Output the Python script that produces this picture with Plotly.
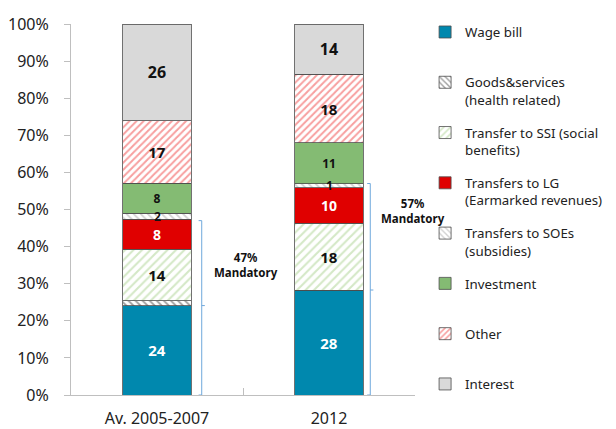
import plotly.graph_objects as go

categories = ["Av. 2005-2007", "2012"]

series_names = [
    "Wage bill",
    "Goods&services<br>(health related)",
    "Transfer to SSI (social<br>benefits)",
    "Transfers to LG<br>(Earmarked revenues)",
    "Transfers to SOEs<br>(subsidies)",
    "Investment",
    "Other",
    "Interest",
]

wage = [24.1, 28.3]
goods = [1.3, 0.0]
ssi = [13.9, 18.0]
lg = [8.1, 9.5]
soe = [1.6, 1.2]
investment = [8.1, 11.0]
other = [16.8, 18.4]
interest = [26.1, 13.6]

wage_lbl = ["24", "28"]
goods_lbl = ["", ""]
ssi_lbl = ["14", "18"]
lg_lbl = ["8", "10"]
soe_lbl = ["2", "1"]
investment_lbl = ["8", "11"]
other_lbl = ["17", "18"]
interest_lbl = ["26", "14"]

mandatory = [47, 57]
y_ticks = [0, 10, 20, 30, 40, 50, 60, 70, 80, 90, 100]
y_tick_text = [f"{v}%" for v in y_ticks]

FONT = "Noto Sans, Open Sans, sans-serif"

values = [wage, goods, ssi, lg, soe, investment, other, interest]
labels = [wage_lbl, goods_lbl, ssi_lbl, lg_lbl, soe_lbl, investment_lbl, other_lbl, interest_lbl]
styles = [
    dict(color="#0088AE", pattern=None, tc="white", ts=15),
    dict(color="white", pattern=dict(shape="\\", fgcolor="#404040", bgcolor="white", size=5, solidity=0.35), tc="#111", ts=12),
    dict(color="white", pattern=dict(shape="/", fgcolor="#A9D18E", bgcolor="white", size=6, solidity=0.35), tc="#111", ts=15),
    dict(color="#E00000", pattern=None, tc="white", ts=14),
    dict(color="white", pattern=dict(shape="\\", fgcolor="#A6A6A6", bgcolor="white", size=5, solidity=0.35), tc="#111", ts=12),
    dict(color="#84BB73", pattern=None, tc="#111", ts=12),
    dict(color="white", pattern=dict(shape="/", fgcolor="#F04040", bgcolor="white", size=5, solidity=0.4), tc="#111", ts=15),
    dict(color="#D9D9D9", pattern=None, tc="#111", ts=16),
]
thin_series = {1, 4}  # labels drawn as annotations on top of all bars

fig = go.Figure()
for i, (name, vals, lbl, st) in enumerate(zip(series_names, values, labels, styles)):
    legend_name = name if "<br>" in name else name + "<br> "
    marker = dict(color=st["color"], line=dict(color="#4D4D4D", width=0.8))
    if st["pattern"]:
        marker["pattern"] = st["pattern"]
    fig.add_trace(go.Bar(
        x=categories, y=vals, name=legend_name,
        text=None if i in thin_series else lbl,
        texttemplate=None if i in thin_series else "<b>%{text}</b>",
        textposition="inside",
        insidetextanchor="middle", textangle=0, constraintext="none",
        textfont=dict(color=st["tc"], size=st["ts"], family=FONT),
        marker=marker, legendgroup=f"g{i}", hoverinfo="skip",
    ))

# labels for thin segments, placed at segment middles (computed from data)
for k in range(2):
    base = 0.0
    for i, vals in enumerate(values):
        if i in thin_series and labels[i][k]:
            fig.add_annotation(x=k, y=base + vals[k] / 2, xref="x", yref="y",
                               text=f"<b>{labels[i][k]}</b>", showarrow=False,
                               font=dict(size=styles[i]["ts"], color=styles[i]["tc"], family=FONT))
        base += vals[k]

# Mandatory brackets
bracket_x = [0.26, 1.24]
d = 0.018
for k in range(2):
    xb = bracket_x[k]
    top = mandatory[k]
    mid = wage[k]
    line = dict(color="#6FA8DC", width=1)
    fig.add_shape(type="line", xref="x", yref="y", x0=xb, x1=xb, y0=0, y1=top, line=line)
    fig.add_shape(type="line", xref="x", yref="y", x0=xb - d, x1=xb, y0=top, y1=top, line=line)
    fig.add_shape(type="line", xref="x", yref="y", x0=xb - d, x1=xb, y0=0, y1=0, line=line)
    fig.add_shape(type="line", xref="x", yref="y", x0=xb, x1=xb + d, y0=mid, y1=mid, line=line)

ann_pos = [(0.515, 35.0), (1.49, 49.7)]
for k in range(2):
    fig.add_annotation(x=ann_pos[k][0], y=ann_pos[k][1], xref="x", yref="y",
                       text=f"<b>{mandatory[k]}%<br>Mandatory</b>", showarrow=False,
                       font=dict(size=11.5, color="#111", family=FONT), align="center")

# the page places the figure 8px from the window's top-left corner
fig.update_layout(
    barmode="stack",
    bargap=0.6,
    width=608, height=421,
    margin=dict(l=63, r=201, t=16, b=34, autoexpand=False),
    paper_bgcolor="white", plot_bgcolor="white",
    font=dict(family=FONT, color="#222"),
    showlegend=True,
    legend=dict(
        xref="container", yref="container",
        x=0.686, xanchor="left", y=0.979, yanchor="top",
        traceorder="grouped", valign="top", tracegroupgap=12.7,
        font=dict(size=13.3, color="#222", family=FONT),
        itemwidth=30, bgcolor="rgba(0,0,0,0)", maxheight=420,
    ),
    xaxis=dict(
        type="category", range=[-0.5, 1.5],
        showline=True, linecolor="#BFBFBF", linewidth=1,
        ticks="inside", tickson="boundaries", ticklen=7, tickcolor="#BFBFBF",
        tickfont=dict(size=16, color="#222"), showgrid=False,
        ticklabelstandoff=9,
    ),
    yaxis=dict(
        range=[0, 100], tickvals=y_ticks, ticktext=y_tick_text,
        showline=True, linecolor="#BFBFBF", linewidth=1,
        ticks="outside", ticklen=6, tickcolor="#BFBFBF",
        tickfont=dict(size=16, color="#222"), showgrid=False, zeroline=False,
        ticklabelstandoff=12,
    ),
)

fig.write_html("out.html")
